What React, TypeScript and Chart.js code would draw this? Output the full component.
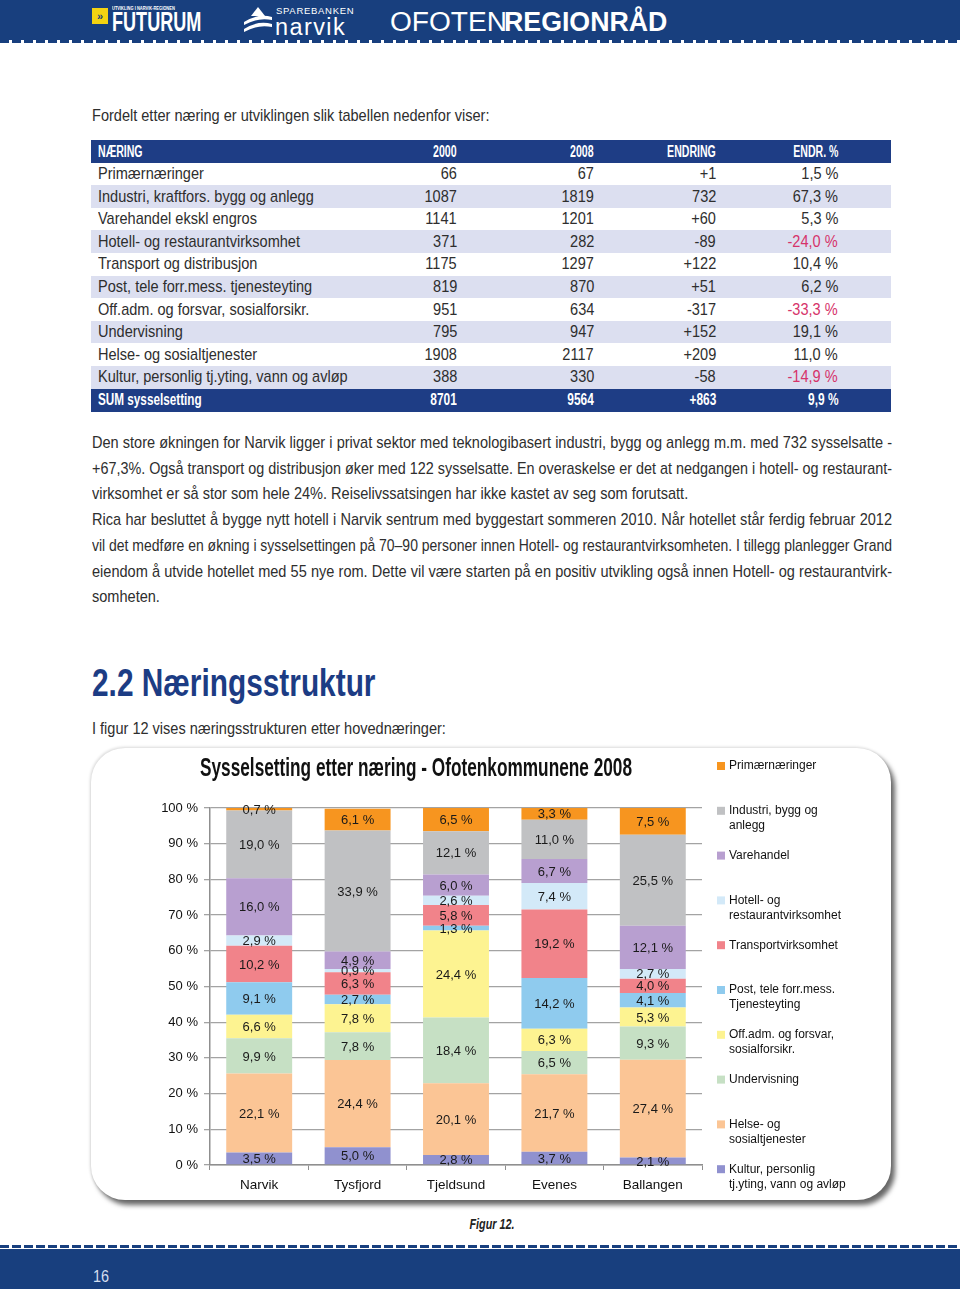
import React, { useEffect, useLayoutEffect, useRef } from "react";
import { Chart, registerables } from "chart.js";

Chart.register(...registerables);

// ---------- Chart data ----------
const categories = ["Narvik", "Tysfjord", "Tjeldsund", "Evenes", "Ballangen"];
const kultur = [3.5, 5.0, 2.8, 3.7, 2.1];
const helse = [22.1, 24.4, 20.1, 21.7, 27.4];
const undervisning = [9.9, 7.8, 18.4, 6.5, 9.3];
const offadm = [6.6, 7.8, 24.4, 6.3, 5.3];
const post = [9.1, 2.7, 1.3, 14.2, 4.1];
const transport = [10.2, 6.3, 5.8, 19.2, 4.0];
const hotell = [2.9, 0.9, 2.6, 7.4, 2.7];
const varehandel = [16.0, 4.9, 6.0, 6.7, 12.1];
const industri = [19.0, 33.9, 12.1, 11.0, 25.5];
const primaer = [0.7, 6.1, 6.5, 3.3, 7.5];
const yTickStep = 10;
const yMax = 100;
const chartTitle = "Sysselsetting etter næring - Ofotenkommunene 2008";

// ---------- Table data ----------
const tableHead = ["NÆRING", "2000", "2008", "ENDRING", "ENDR. %"];
const tNaering = [
  "Primærnæringer",
  "Industri, kraftfors. bygg og anlegg",
  "Varehandel ekskl engros",
  "Hotell- og restaurantvirksomhet",
  "Transport og distribusjon",
  "Post, tele forr.mess. tjenesteyting",
  "Off.adm. og forsvar, sosialforsikr.",
  "Undervisning",
  "Helse- og sosialtjenester",
  "Kultur, personlig tj.yting, vann og avløp",
];
const t2000 = ["66", "1087", "1141", "371", "1175", "819", "951", "795", "1908", "388"];
const t2008 = ["67", "1819", "1201", "282", "1297", "870", "634", "947", "2117", "330"];
const tEndring = ["+1", "732", "+60", "-89", "+122", "+51", "-317", "+152", "+209", "-58"];
const tEndrPct = ["1,5 %", "67,3 %", "5,3 %", "-24,0 %", "10,4 %", "6,2 %", "-33,3 %", "19,1 %", "11,0 %", "-14,9 %"];
const tSum = ["SUM sysselsetting", "8701", "9564", "+863", "9,9 %"];

const paraLines = [
  "Den store økningen for Narvik ligger i privat sektor med teknologibasert industri, bygg og anlegg m.m. med 732 sysselsatte -",
  "+67,3%. Også transport og distribusjon øker med 122 sysselsatte. En overaskelse er det at nedgangen i hotell- og restaurant-",
  "virksomhet er så stor som hele 24%. Reiselivssatsingen har ikke kastet av seg som forutsatt.",
  "Rica har besluttet å bygge nytt hotell i Narvik sentrum med byggestart sommeren 2010. Når hotellet står ferdig februar 2012",
  "vil det medføre en økning i sysselsettingen på 70–90 personer innen Hotell- og restaurantvirksomheten. I tillegg planlegger Grand",
  "eiendom å utvide hotellet med 55 nye rom. Dette vil være starten på en positiv utvikling også innen Hotell- og restaurantvirk-",
  "somheten.",
];
const paraLast = [false, false, true, false, false, false, true];

// series, bottom of stack first
const series = [
  { name: ["Kultur, personlig", "tj.yting, vann og avløp"], data: kultur, color: "#9091cf" },
  { name: ["Helse- og", "sosialtjenester"], data: helse, color: "#fbc595" },
  { name: ["Undervisning"], data: undervisning, color: "#c6e0c4" },
  { name: ["Off.adm. og forsvar,", "sosialforsikr."], data: offadm, color: "#fdf391" },
  { name: ["Post, tele forr.mess.", "Tjenesteyting"], data: post, color: "#8fcbee" },
  { name: ["Transportvirksomhet"], data: transport, color: "#f1838a" },
  { name: ["Hotell- og", "restaurantvirksomhet"], data: hotell, color: "#d3e9f8" },
  { name: ["Varehandel"], data: varehandel, color: "#b89fd0" },
  { name: ["Industri, bygg og", "anlegg"], data: industri, color: "#c0c1c3" },
  { name: ["Primærnæringer"], data: primaer, color: "#f7951f" },
];

const NAVY = "#183f7e";
const SANS = '"Liberation Sans", Arial, "Helvetica", sans-serif';
const BODY_SX = 0.855;
const fmt = (v: number) => v.toFixed(1).replace(".", ",") + " %";

// ---------- text helpers ----------
type TP = {
  x: number; y: number; size: number; sx?: number; align?: "left" | "right" | "center";
  color?: string; weight?: number | string; italic?: boolean; ls?: number; children: any;
};
function T({ x, y, size, sx = BODY_SX, align = "left", color = "#2e2e2e", weight = 400, italic = false, ls, children }: TP) {
  const lh = Math.round(size * 1.2);
  const style: any = {
    position: "absolute",
    top: y - lh / 2,
    whiteSpace: "nowrap",
    fontSize: size,
    lineHeight: lh + "px",
    fontFamily: SANS,
    fontWeight: weight,
    fontStyle: italic ? "italic" : "normal",
    color,
    letterSpacing: ls,
  };
  if (align === "left") {
    style.left = x;
    style.transform = `scaleX(${sx})`;
    style.transformOrigin = "left center";
  } else if (align === "right") {
    style.right = 960 - x;
    style.transform = `scaleX(${sx})`;
    style.transformOrigin = "right center";
  } else {
    style.left = x;
    style.transform = `translateX(-50%) scaleX(${sx})`;
    style.transformOrigin = "center center";
  }
  return <div style={style}>{children}</div>;
}

// a justified single line: fills width w exactly, via word spacing (or narrower scale if needed)
function JLine({ x, y, w, size, sx, last, text }: any) {
  const ref = useRef<HTMLDivElement>(null);
  const lh = Math.round(size * 1.2);
  useLayoutEffect(() => {
    const el = ref.current;
    if (!el) return;
    el.style.wordSpacing = "0px";
    el.style.transform = "none";
    const nat = el.getBoundingClientRect().width;
    let s = sx;
    let ws = 0;
    if (!last) {
      const spaces = (text.match(/ /g) || []).length || 1;
      if (nat * sx > w) s = w / nat;
      else ws = (w / sx - nat) / spaces;
    }
    el.style.wordSpacing = ws + "px";
    el.style.transform = `scaleX(${s})`;
  }, [text]);
  return (
    <div
      ref={ref}
      style={{
        position: "absolute",
        left: x,
        top: y - lh / 2,
        display: "inline-block",
        whiteSpace: "nowrap",
        fontSize: size,
        lineHeight: lh + "px",
        fontFamily: SANS,
        color: "#2e2e2e",
        transformOrigin: "left center",
      }}
    >
      {text}
    </div>
  );
}

// ---------- Chart plugins ----------
const titlePlugin = {
  id: "pageTitle",
  afterDraw(chart: any) {
    const ctx = chart.ctx;
    ctx.save();
    ctx.font = `bold 25px ${SANS}`;
    const w = ctx.measureText(chartTitle).width;
    const sx = 432 / w;
    ctx.translate(325, 28);
    ctx.scale(sx, 1);
    ctx.fillStyle = "#111";
    ctx.textAlign = "center";
    ctx.textBaseline = "alphabetic";
    ctx.fillText(chartTitle, 0, 0);
    ctx.restore();
  },
};

const labelPlugin = {
  id: "segLabels",
  afterDatasetsDraw(chart: any) {
    const ctx = chart.ctx;
    ctx.save();
    ctx.font = `13px ${SANS}`;
    ctx.fillStyle = "#1a1a1a";
    ctx.textAlign = "center";
    ctx.textBaseline = "middle";
    chart.data.datasets.forEach((ds: any, i: number) => {
      const meta = chart.getDatasetMeta(i);
      meta.data.forEach((el: any, j: number) => {
        const p = el.getProps(["x", "y", "base"], true);
        ctx.fillText(fmt(ds.data[j]), p.x, (p.y + p.base) / 2 + 1);
      });
    });
    ctx.restore();
  },
};

const legendPlugin = {
  id: "sideLegend",
  afterDraw(chart: any) {
    const ctx = chart.ctx;
    ctx.save();
    const x0 = chart.chartArea.right + 15;
    const y0 = 18;
    const step = 44.8;
    const lh = 15;
    ctx.font = `12px ${SANS}`;
    ctx.textAlign = "left";
    ctx.textBaseline = "middle";
    const items = series.slice().reverse();
    items.forEach((s, i) => {
      const y = y0 + i * step;
      ctx.fillStyle = s.color;
      ctx.fillRect(x0, y - 4, 8, 8);
      ctx.fillStyle = "#111";
      s.name.forEach((ln, k) => ctx.fillText(ln, x0 + 12, y + k * lh));
    });
    ctx.restore();
  },
};

function ChartCanvas() {
  const ref = useRef<HTMLCanvasElement>(null);
  useEffect(() => {
    const chart = new Chart(ref.current as HTMLCanvasElement, {
      type: "bar",
      data: {
        labels: categories,
        datasets: series.map((s) => ({
          label: s.name.join(" "),
          data: s.data,
          backgroundColor: s.color,
          borderWidth: 0,
          barPercentage: 0.67,
          categoryPercentage: 1,
        })),
      },
      options: {
        animation: false,
        responsive: false,
        maintainAspectRatio: false,
        layout: { padding: { left: 40, right: 189, top: 60, bottom: 0 } },
        plugins: {
          legend: { display: false },
          title: { display: false },
          tooltip: { enabled: false },
        },
        scales: {
          x: {
            stacked: true,
            grid: { display: true, drawOnChartArea: false, tickLength: 5, color: "#8f8f8f", offset: true },
            border: { color: "#8f8f8f", width: 1.5 },
            ticks: { color: "#111", font: { size: 13.5, family: SANS }, padding: 7 },
            afterFit: (s: any) => { s.height = 35; },
          },
          y: {
            stacked: true,
            min: 0,
            max: yMax,
            ticks: {
              stepSize: yTickStep,
              color: "#111",
              font: { size: 13, family: SANS },
              padding: 6,
              callback: (v: any) => v + " %",
            },
            grid: { color: "#a3a3a3", lineWidth: 1.3, tickLength: 6 },
            border: { color: "#8f8f8f", width: 1.5 },
            afterFit: (s: any) => { s.width = 79; },
          },
        },
      } as any,
      plugins: [labelPlugin, legendPlugin, titlePlugin],
    });
    return () => chart.destroy();
  }, []);
  return (
    <canvas
      ref={ref}
      width={800}
      height={452}
      style={{ position: "absolute", left: 91, top: 748, width: 800, height: 452 }}
    />
  );
}

function Dashes({ top }: { top: number }) {
  return (
    <div
      style={{
        position: "absolute",
        left: 0,
        top,
        width: 960,
        height: 3,
        background: `repeating-linear-gradient(90deg, ${NAVY} 0px, ${NAVY} 9px, #ffffff 9px, #ffffff 12px)`,
      }}
    />
  );
}

export default function App() {
  const rowH = 22.6;
  const cols = [457, 594, 716, 838];
  return (
    <div
      style={{
        position: "absolute",
        left: 0,
        top: 0,
        width: 960,
        height: 1289,
        overflow: "hidden",
        background: "#ffffff",
        fontFamily: SANS,
      }}
    >
      {/* header */}
      <div style={{ position: "absolute", left: 0, top: 0, width: 960, height: 40, background: NAVY }} />
      <Dashes top={40} />
      <div style={{ position: "absolute", left: 92, top: 8, width: 16, height: 16, background: "#f3d312" }} />
      <T x={100} y={16} size={11} sx={1} align="center" color={NAVY} weight={700}>»</T>
      <T x={112} y={8} size={5} sx={0.8} color="#ffffff" weight={700}>UTVIKLING I NARVIK-REGIONEN</T>
      <T x={112} y={22} size={27} sx={0.67} color="#ffffff" weight={700}>FUTURUM</T>
      <svg width={32} height={30} style={{ position: "absolute", left: 242, top: 5 }}>
        <path d="M16 2 L23 11 L9 11 Z" fill="#ffffff" />
        <path d="M2 17 Q16 8 30 12 L30 15 Q16 12 2 20 Z" fill="#ffffff" />
        <path d="M2 24 Q16 15 30 19 L30 22 Q16 19 2 27 Z" fill="#ffffff" />
      </svg>
      <T x={276} y={10} size={9.5} sx={1} ls={0.7} color="#ffffff">SPAREBANKEN</T>
      <T x={275} y={27} size={23} sx={1.02} ls={1.4} color="#ffffff">narvik</T>
      <T x={390} y={22} size={27} sx={1.04} color="#ffffff" weight={300}>OFOTEN</T>
      <T x={504} y={22} size={27} sx={0.99} color="#ffffff" weight={700}>REGIONRÅD</T>

      {/* intro */}
      <T x={92} y={116} size={17}>Fordelt etter næring er utviklingen slik tabellen nedenfor viser:</T>

      {/* table */}
      {Array.from({ length: 12 }).map((_, r) => {
        const bg = r === 0 || r === 11 ? "#1e3d85" : r % 2 === 0 ? "#dcdff0" : "#ffffff";
        return (
          <div
            key={"row" + r}
            style={{ position: "absolute", left: 91, top: 140 + r * rowH, width: 800, height: rowH + 0.5, background: bg }}
          />
        );
      })}
      <T x={98} y={151} size={16} sx={0.66} color="#ffffff" weight={700}>{tableHead[0]}</T>
      {tableHead.slice(1).map((h, c) => (
        <T key={"h" + c} x={cols[c]} y={151} size={16} sx={0.66} align="right" color="#ffffff" weight={700}>{h}</T>
      ))}
      {tNaering.map((n, i) => {
        const y = 174 + i * rowH;
        const neg = tEndrPct[i].startsWith("-");
        return (
          <React.Fragment key={"r" + i}>
            <T x={98} y={y} size={17}>{n}</T>
            <T x={cols[0]} y={y} size={17} align="right">{t2000[i]}</T>
            <T x={cols[1]} y={y} size={17} align="right">{t2008[i]}</T>
            <T x={cols[2]} y={y} size={17} align="right">{tEndring[i]}</T>
            <T x={cols[3]} y={y} size={17} align="right" color={neg ? "#d6336a" : "#2e2e2e"}>{tEndrPct[i]}</T>
          </React.Fragment>
        );
      })}
      <T x={98} y={400} size={17} sx={0.69} color="#ffffff" weight={700}>{tSum[0]}</T>
      {tSum.slice(1).map((h, c) => (
        <T key={"s" + c} x={cols[c]} y={400} size={17} sx={0.7} align="right" color="#ffffff" weight={700}>{h}</T>
      ))}

      {/* paragraph */}
      {paraLines.map((ln, i) => (
        <JLine key={"p" + i} x={92} y={443 + i * 25.7} w={800} size={17} sx={BODY_SX} last={paraLast[i]} text={ln} />
      ))}

      {/* heading */}
      <T x={92} y={683} size={38} sx={0.785} color="#1c3c84" weight={700}>2.2 Næringsstruktur</T>
      <T x={92} y={729} size={17}>I figur 12 vises næringsstrukturen etter hovednæringer:</T>

      {/* chart frame */}
      <div
        style={{
          position: "absolute",
          left: 91,
          top: 748,
          width: 800,
          height: 452,
          borderRadius: 34,
          background: "#ffffff",
          boxShadow: "4px 5px 5px rgba(0,0,0,0.6), -1px -1px 3px rgba(0,0,0,0.15)",
        }}
      />
      <ChartCanvas />

      <T x={492} y={1224} size={15} sx={0.72} align="center" color="#222" weight={700} italic>Figur 12.</T>

      {/* footer */}
      <Dashes top={1245} />
      <div style={{ position: "absolute", left: 0, top: 1249, width: 960, height: 40, background: NAVY }} />
      <T x={93} y={1277} size={17} sx={0.85} color="#d4deee">16</T>
    </div>
  );
}
